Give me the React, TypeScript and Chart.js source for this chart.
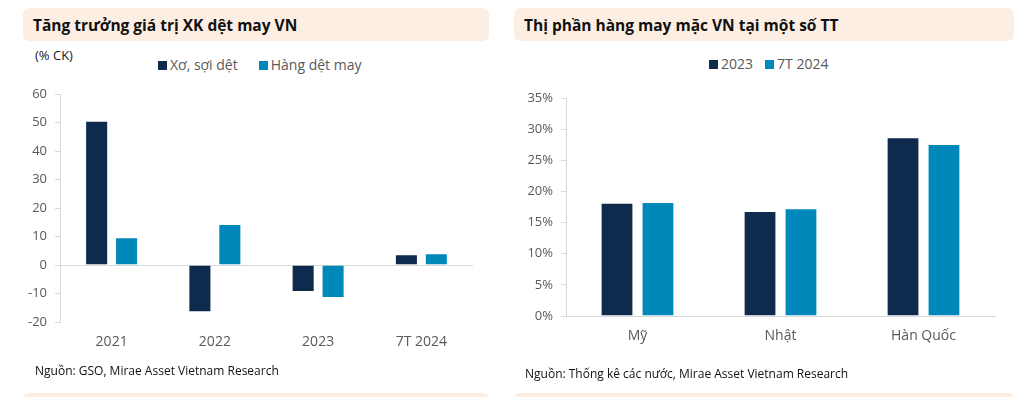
import React, { useEffect, useRef } from "react";
import { Chart, registerables } from "chart.js";

Chart.register(...registerables);

const leftTitle = "Tăng trưởng giá trị XK dệt may VN";
const leftUnit = "(% CK)";
const leftCategories = ["2021", "2022", "2023", "7T 2024"];
const leftSeriesNames = ["Xơ, sợi dệt", "Hàng dệt may"];
const fiberValues = [50.6, -16.6, -9.5, 3.8];
const textileValues = [9.7, 14.4, -11.6, 4.1];
const leftSource = "Nguồn: GSO, Mirae Asset Vietnam Research";

const rightTitle = "Thị phần hàng may mặc VN tại một số TT";
const rightCategories = ["Mỹ", "Nhật", "Hàn Quốc"];
const rightSeriesNames = ["2023", "7T 2024"];
const share2023 = [18.2, 16.85, 28.7];
const share7T2024 = [18.3, 17.3, 27.6];
const rightSource = "Nguồn: Thống kê các nước, Mirae Asset Vietnam Research";

const NAVY = "#0E2B4E";
const BLUE = "#0088BA";
const AXIS = "#D9D9D9";
const TICK_TEXT = "#595959";
const BAND = "#FDEEE3";
const FONT = "'Open Sans', 'Noto Sans', sans-serif";

function LeftChart() {
  const ref = useRef<HTMLCanvasElement | null>(null);
  useEffect(() => {
    const chart = new Chart(ref.current as HTMLCanvasElement, {
      type: "bar",
      data: {
        labels: leftCategories,
        datasets: [
          {
            label: leftSeriesNames[0],
            data: fiberValues,
            backgroundColor: NAVY,
            borderColor: "rgba(255,255,255,0.45)",
            borderWidth: 1,
            categoryPercentage: 0.58,
            barPercentage: 0.77,
          },
          {
            label: leftSeriesNames[1],
            data: textileValues,
            backgroundColor: BLUE,
            borderColor: "rgba(255,255,255,0.45)",
            borderWidth: 1,
            categoryPercentage: 0.58,
            barPercentage: 0.77,
          },
        ],
      },
      options: {
        animation: false,
        responsive: false,
        maintainAspectRatio: false,
        layout: { padding: { top: 94, bottom: 45, left: 0, right: 27 } },
        plugins: { legend: { display: false }, tooltip: { enabled: false } },
        scales: {
          x: {
            grid: { display: false, drawTicks: false },
            border: { display: false },
            ticks: { color: TICK_TEXT, font: { family: FONT, size: 14 }, padding: 12 },
            afterFit: (s: any) => { s.height = 30; },
          },
          y: {
            min: -20,
            max: 60,
            ticks: { stepSize: 10, color: TICK_TEXT, font: { family: FONT, size: 13 }, padding: 8 },
            grid: {
              color: (ctx: any) => (ctx.tick && ctx.tick.value === 0 ? AXIS : "transparent"),
              tickColor: AXIS,
              tickLength: 5,
              lineWidth: 1,
            },
            border: { display: true, color: AXIS },
            afterFit: (s: any) => { s.width = 60; },
          },
        },
      },
    });
    return () => chart.destroy();
  }, []);
  return (
    <canvas
      ref={ref}
      width={500}
      height={397}
      style={{ position: "absolute", left: 0, top: 0, width: 500, height: 397 }}
    />
  );
}

function RightChart() {
  const ref = useRef<HTMLCanvasElement | null>(null);
  useEffect(() => {
    const chart = new Chart(ref.current as HTMLCanvasElement, {
      type: "bar",
      data: {
        labels: rightCategories,
        datasets: [
          {
            label: rightSeriesNames[0],
            data: share2023,
            backgroundColor: NAVY,
            borderColor: "rgba(255,255,255,0.45)",
            borderWidth: 1,
            categoryPercentage: 0.573,
            barPercentage: 0.8,
          },
          {
            label: rightSeriesNames[1],
            data: share7T2024,
            backgroundColor: BLUE,
            borderColor: "rgba(255,255,255,0.45)",
            borderWidth: 1,
            categoryPercentage: 0.573,
            barPercentage: 0.8,
          },
        ],
      },
      options: {
        animation: false,
        responsive: false,
        maintainAspectRatio: false,
        layout: { padding: { top: 98, bottom: 51, left: 0, right: 30 } },
        plugins: { legend: { display: false }, tooltip: { enabled: false } },
        scales: {
          x: {
            grid: { display: false, drawTicks: false },
            border: { display: true, color: AXIS },
            ticks: { color: TICK_TEXT, font: { family: FONT, size: 14 }, padding: 12 },
            afterFit: (s: any) => { s.height = 30; },
          },
          y: {
            min: 0,
            max: 35,
            ticks: {
              stepSize: 5,
              color: TICK_TEXT,
              font: { family: FONT, size: 13 },
              padding: 8,
              callback: (v: any) => v + "%",
            },
            grid: {
              color: "transparent",
              tickColor: AXIS,
              tickLength: 5,
            },
            border: { display: true, color: AXIS },
            afterFit: (s: any) => { s.width = 54; },
          },
        },
      },
    });
    return () => chart.destroy();
  }, []);
  return (
    <canvas
      ref={ref}
      width={513}
      height={397}
      style={{ position: "absolute", left: 512, top: 0, width: 513, height: 397 }}
    />
  );
}

const bandStyle = (left: number, width: number, top: number): React.CSSProperties => ({
  position: "absolute",
  left,
  top,
  width,
  height: 33,
  background: BAND,
  borderRadius: 6,
});

const titleStyle = (left: number): React.CSSProperties => ({
  position: "absolute",
  left,
  top: 14,
  fontFamily: FONT,
  fontWeight: 700,
  fontSize: 15.5,
  color: "#111",
  whiteSpace: "nowrap",
  lineHeight: "22px",
});

const Swatch = ({ color }: { color: string }) => (
  <span style={{ display: "inline-block", width: 9, height: 9, background: color, marginRight: 3 }} />
);

export default function App() {
  return (
    <div style={{ position: "fixed", left: 0, top: 0, width: 1025, height: 397, background: "#fff", overflow: "hidden" }}>
      <div style={bandStyle(23, 466, 8)} />
      <div style={bandStyle(514, 500, 8)} />
      <div style={bandStyle(23, 466, 393)} />
      <div style={bandStyle(514, 500, 393)} />
      <div style={titleStyle(33)}>{leftTitle}</div>
      <div style={titleStyle(524)}>{rightTitle}</div>

      <div style={{ position: "absolute", left: 35, top: 46, fontFamily: FONT, fontSize: 13, color: "#222", lineHeight: "18px" }}>
        {leftUnit}
      </div>

      <div style={{ position: "absolute", left: 158, top: 55, fontFamily: FONT, fontSize: 14, color: TICK_TEXT, lineHeight: "20px", whiteSpace: "nowrap", display: "flex", alignItems: "center" }}>
        <Swatch color={NAVY} />
        <span style={{ marginRight: 21 }}>{leftSeriesNames[0]}</span>
        <Swatch color={BLUE} />
        <span>{leftSeriesNames[1]}</span>
      </div>

      <div style={{ position: "absolute", left: 709, top: 54, fontFamily: FONT, fontSize: 14, color: TICK_TEXT, lineHeight: "20px", whiteSpace: "nowrap", display: "flex", alignItems: "center" }}>
        <Swatch color={NAVY} />
        <span style={{ marginRight: 12 }}>{rightSeriesNames[0]}</span>
        <Swatch color={BLUE} />
        <span>{rightSeriesNames[1]}</span>
      </div>

      <LeftChart />
      <RightChart />

      <div style={{ position: "absolute", left: 35, top: 362, fontFamily: FONT, fontSize: 12, color: "#111", lineHeight: "17px", whiteSpace: "nowrap" }}>
        {leftSource}
      </div>
      <div style={{ position: "absolute", left: 525, top: 365, fontFamily: FONT, fontSize: 12, color: "#111", lineHeight: "17px", whiteSpace: "nowrap" }}>
        {rightSource}
      </div>
    </div>
  );
}
